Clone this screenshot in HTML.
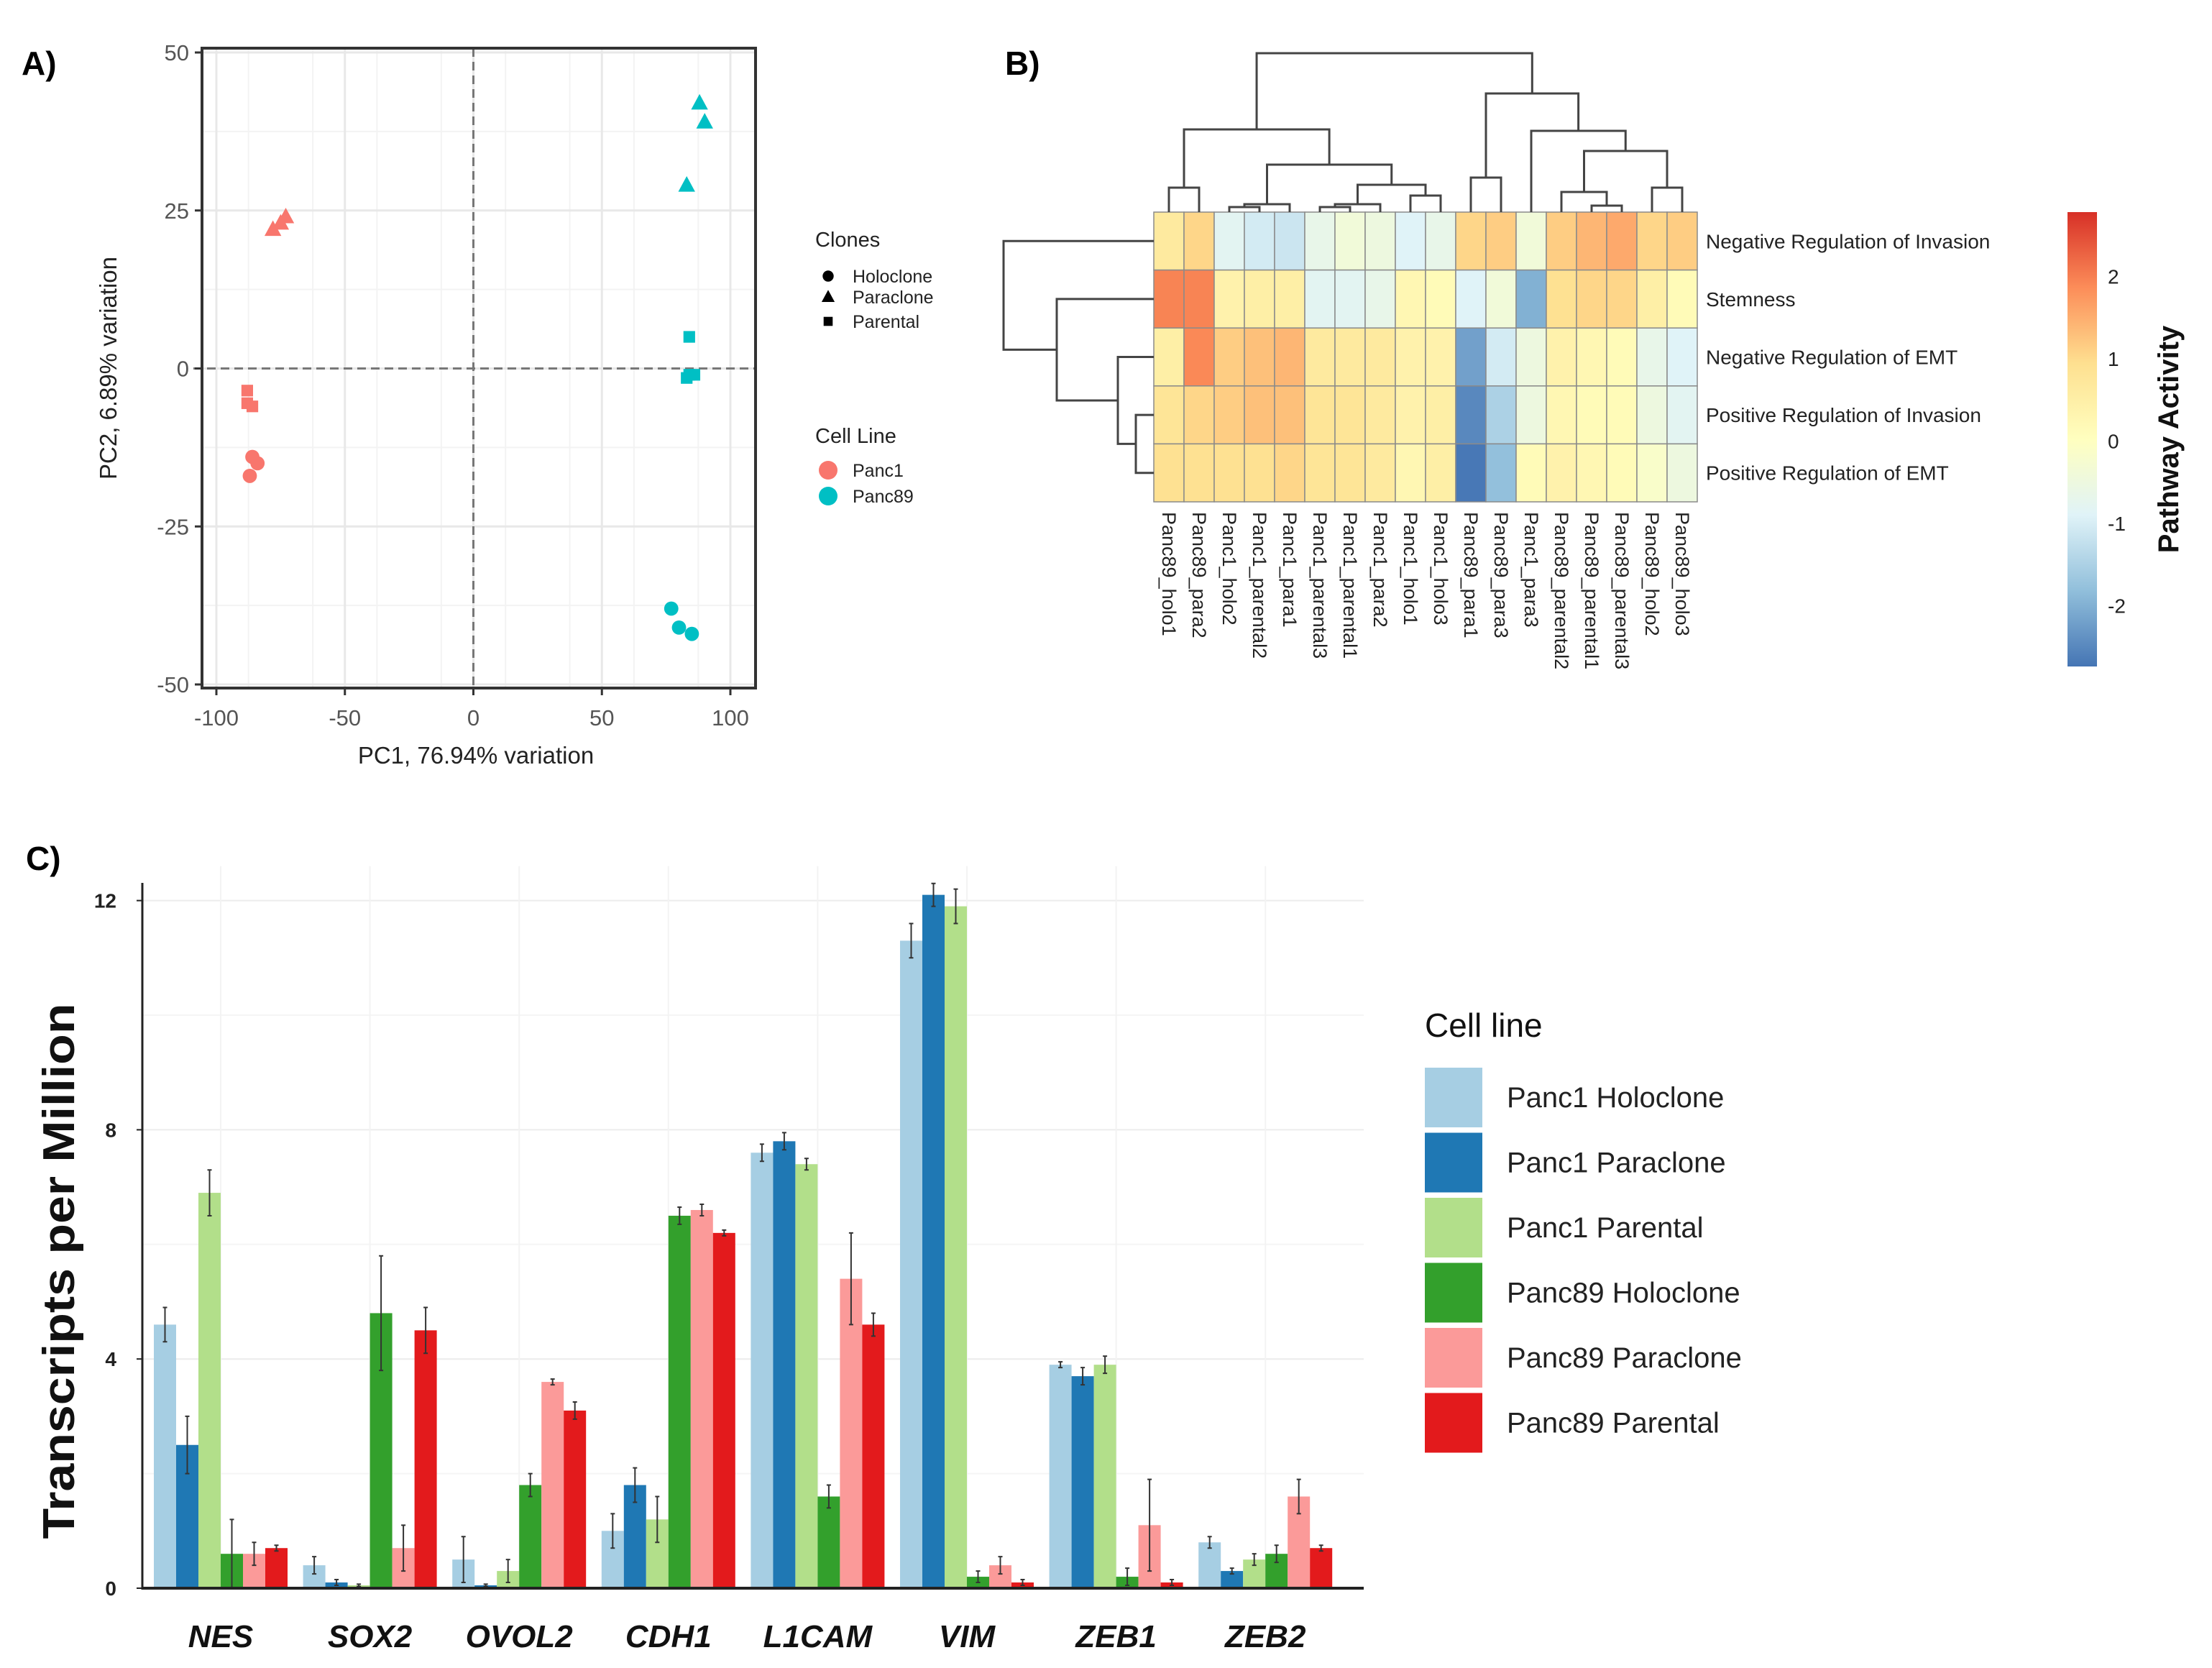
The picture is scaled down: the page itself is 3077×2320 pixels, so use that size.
<!DOCTYPE html>
<html><head><meta charset="utf-8"><style>
html,body{margin:0;padding:0;background:#fff}
svg{display:block}
text{font-family:"Liberation Sans",sans-serif}
</style></head><body>
<svg id="fig" width="3077" height="2320" viewBox="0 0 3077 2320" xmlns="http://www.w3.org/2000/svg">
<rect width="3077" height="2320" fill="#fff"/>
<text x="30" y="104" font-size="46" font-weight="bold">A)</text>
<text x="1398" y="104" font-size="46" font-weight="bold">B)</text>
<text x="36" y="1210" font-size="46" font-weight="bold">C)</text>
<g id="pca"></g>
<g id="heat"></g>
<g id="bars"></g>
</svg>
<script>
// ---------- PCA data ----------
const pcaX = [-75,-78,-73,-88,-88,-86,-86,-84,-87,88,90,83,84,84,86,83,77,80,85];
const pcaY = [23,22,24,-3.5,-5.5,-6,-14,-15,-17,42,39,29,5,-1,-1,-1.5,-38,-41,-42];
const pcaClone = ['para','para','para','par','par','par','holo','holo','holo','para','para','para','par','par','par','par','holo','holo','holo'];
const pcaLine = ['Panc1','Panc1','Panc1','Panc1','Panc1','Panc1','Panc1','Panc1','Panc1','Panc89','Panc89','Panc89','Panc89','Panc89','Panc89','Panc89','Panc89','Panc89','Panc89'];
const pcaXTicks = [-100,-50,0,50,100];
const pcaYTicks = [50,25,0,-25,-50];

// ---------- Heatmap data ----------
const hmCols = ['Panc89_holo1','Panc89_para2','Panc1_holo2','Panc1_parental2','Panc1_para1','Panc1_parental3','Panc1_parental1','Panc1_para2','Panc1_holo1','Panc1_holo3','Panc89_para1','Panc89_para3','Panc1_para3','Panc89_parental2','Panc89_parental1','Panc89_parental3','Panc89_holo2','Panc89_holo3'];
const hmRows = ['Negative Regulation of Invasion','Stemness','Negative Regulation of EMT','Positive Regulation of Invasion','Positive Regulation of EMT'];
const hmRow0 = [0.65,1.05,-0.8,-1.05,-1.15,-0.65,-0.4,-0.5,-0.9,-0.65,1.05,1.15,-0.4,1.15,1.4,1.55,1.05,1.15];
const hmRow1 = [1.95,1.95,0.4,0.5,0.5,-0.8,-0.8,-0.65,0.25,0.15,-0.9,-0.4,-2.0,0.9,1.05,1.05,0.5,0.15];
const hmRow2 = [0.5,1.9,1.15,1.3,1.4,0.65,0.65,0.65,0.4,0.4,-2.2,-1.05,-0.5,0.4,0.25,0.15,-0.65,-0.9];
const hmRow3 = [0.8,1.05,1.15,1.3,1.3,0.8,0.8,0.65,0.4,0.5,-2.5,-1.5,-0.5,0.25,0.15,0.15,-0.5,-0.8];
const hmRow4 = [0.9,0.9,0.9,0.9,1.05,0.8,0.8,0.65,0.25,0.5,-2.7,-1.8,0.15,0.4,0.25,0.15,-0.15,-0.5];
const hmTicks = [2,1,0,-1,-2];

// ---------- Bar data ----------
const genes = ['NES','SOX2','OVOL2','CDH1','L1CAM','VIM','ZEB1','ZEB2'];
const seriesNames = ['Panc1 Holoclone','Panc1 Paraclone','Panc1 Parental','Panc89 Holoclone','Panc89 Paraclone','Panc89 Parental'];
const p1Holo = [4.6,0.4,0.5,1.0,7.6,11.3,3.9,0.8];
const p1Para = [2.5,0.1,0.05,1.8,7.8,12.1,3.7,0.3];
const p1Parental = [6.9,0.05,0.3,1.2,7.4,11.9,3.9,0.5];
const p89Holo = [0.6,4.8,1.8,6.5,1.6,0.2,0.2,0.6];
const p89Para = [0.6,0.7,3.6,6.6,5.4,0.4,1.1,1.6];
const p89Parental = [0.7,4.5,3.1,6.2,4.6,0.1,0.1,0.7];
const e1Holo = [0.3,0.15,0.4,0.3,0.15,0.3,0.05,0.1];
const e1Para = [0.5,0.05,0.02,0.3,0.15,0.2,0.15,0.05];
const e1Parental = [0.4,0.02,0.2,0.4,0.1,0.3,0.15,0.1];
const e89Holo = [0.6,1.0,0.2,0.15,0.2,0.1,0.15,0.15];
const e89Para = [0.2,0.4,0.05,0.1,0.8,0.15,0.8,0.3];
const e89Parental = [0.05,0.4,0.15,0.05,0.2,0.05,0.05,0.05];
const barTicks = [0,4,8,12];

const NS='http://www.w3.org/2000/svg';
function mk(parent,tag,attrs,txt){const e=document.createElementNS(NS,tag);for(const k in attrs)e.setAttribute(k,attrs[k]);if(txt!==undefined)e.textContent=txt;parent.appendChild(e);return e;}

// ================= PCA =================
(function(){
const g=document.getElementById('pca');
const L=281,R=1051,T=67,B=957;
const sx=v=>658.5+v*3.575, sy=v=>512.5-v*8.79;
const red='#F8766D', teal='#00BFC4';
for(let v=-87.5;v<=100;v+=25){const x=sx(v);if(x>L&&x<R)mk(g,'line',{x1:x,x2:x,y1:T,y2:B,stroke:'#f3f3f3','stroke-width':2});}
for(let v=-37.5;v<=50;v+=25){mk(g,'line',{x1:L,x2:R,y1:sy(v),y2:sy(v),stroke:'#f3f3f3','stroke-width':2});}
pcaXTicks.forEach(v=>{mk(g,'line',{x1:sx(v),x2:sx(v),y1:T,y2:B,stroke:'#e8e8e8','stroke-width':3});});
pcaYTicks.forEach(v=>{mk(g,'line',{x1:L,x2:R,y1:sy(v),y2:sy(v),stroke:'#e8e8e8','stroke-width':3});});
mk(g,'line',{x1:sx(0),x2:sx(0),y1:T,y2:B,stroke:'#777','stroke-width':3,'stroke-dasharray':'12 7'});
mk(g,'line',{x1:L-12,x2:R,y1:sy(0),y2:sy(0),stroke:'#777','stroke-width':3,'stroke-dasharray':'12 7'});
const box=mk(g,'rect',{x:L,y:T,width:R-L,height:B-T,fill:'none',stroke:'#333','stroke-width':4});


pcaXTicks.forEach(v=>{mk(g,'line',{x1:sx(v),x2:sx(v),y1:B,y2:B+10,stroke:'#333','stroke-width':3});
 const t=mk(g,'text',{x:sx(v),y:B+52,'font-size':31,fill:'#555','text-anchor':'middle'},String(v));
 
 });
pcaYTicks.forEach(v=>{mk(g,'line',{x1:L-10,x2:L,y1:sy(v),y2:sy(v),stroke:'#333','stroke-width':3});
 const t=mk(g,'text',{x:L-18,y:sy(v)+11,'font-size':31,fill:'#555','text-anchor':'end'},String(v));
 
 });
const xt=mk(g,'text',{x:662,y:1062,'font-size':33,fill:'#222','text-anchor':'middle'},'PC1, 76.94% variation');


const yt=mk(g,'text',{x:0,y:0,'font-size':33,fill:'#222','text-anchor':'middle',transform:'translate(162,512) rotate(-90)'},'PC2, 6.89% variation');


function marker(parent,shape,x,y,c,s){
 if(shape==='holo') return mk(parent,'circle',{cx:x,cy:y,r:s*0.55,fill:c});
 if(shape==='para') return mk(parent,'polygon',{points:`${x},${y-s*0.7} ${x-s*0.65},${y+s*0.5} ${x+s*0.65},${y+s*0.5}`,fill:c});
 return mk(parent,'rect',{x:x-s*0.45,y:y-s*0.45,width:s*0.9,height:s*0.9,fill:c});
}
pcaX.forEach((v,i)=>{const m=marker(g,pcaClone[i],sx(v),sy(pcaY[i]),pcaLine[i]==='Panc1'?red:teal,18);
 
 });
const lg=mk(g,'g',{});


mk(lg,'text',{x:1134,y:343,'font-size':29,fill:'#222'},'Clones');
[['holo','Holoclone',384],['para','Paraclone',413],['par','Parental',447]].forEach(a=>{marker(lg,a[0],1152,a[2],'#000',14);
 const t=mk(lg,'text',{x:1186,y:a[2]+9,'font-size':25,fill:'#222'},a[1]);
 
 });
mk(lg,'text',{x:1134,y:616,'font-size':29,fill:'#222'},'Cell Line');
[[red,'Panc1',654],[teal,'Panc89',690]].forEach(a=>{mk(lg,'circle',{cx:1152,cy:a[2],r:13,fill:a[0]});
 const t=mk(lg,'text',{x:1186,y:a[2]+9,'font-size':25,fill:'#222'},a[1]);
 
 });
})();

// ================= HEATMAP =================
(function(){
const g=document.getElementById('heat');
const L=1605,T=295,CW=42,RH=80.6;
const rows=[hmRow0,hmRow1,hmRow2,hmRow3,hmRow4];
const vmin=-2.74,vmax=2.78;
const pal=['#4575B4','#91BFDB','#E0F3F8','#FFFFBF','#FEE090','#FC8D59','#D73027'];
function hex(h){return [1,3,5].map(i=>parseInt(h.substr(i,2),16));}
function col(v){let t=(v-vmin)/(vmax-vmin);t=Math.max(0,Math.min(1,t));const p=t*(pal.length-1);const i=Math.min(pal.length-2,Math.floor(p));const f=p-i;const a=hex(pal[i]),b=hex(pal[i+1]);return 'rgb('+a.map((x,k)=>Math.round(x+(b[k]-x)*f)).join(',')+')';}
rows.forEach((r,ri)=>r.forEach((v,ci)=>{const c=mk(g,'rect',{x:L+ci*CW,y:T+ri*RH,width:CW,height:RH,fill:col(v),stroke:'#8a8a8a','stroke-width':1.5});
 
 }));
hmRows.forEach((n,ri)=>{const t=mk(g,'text',{x:L+18*CW+12,y:T+(ri+0.5)*RH+10,'font-size':28,fill:'#222'},n);
 
 });
hmCols.forEach((n,ci)=>{const x=L+(ci+0.5)*CW;const t=mk(g,'text',{x:0,y:0,'font-size':27,fill:'#222',transform:`translate(${x-9},${T+5*RH+14}) rotate(90)`},n);
 
 });
const cx=i=>L+(i+0.5)*CW;
const st={stroke:'#444','stroke-width':3,fill:'none'};
const dg=mk(g,'g',{});


function link(x1,y1,x2,y2,h){mk(dg,'path',Object.assign({d:`M${x1},${y1}V${h}H${x2}V${y2}`},st));return [(x1+x2)/2,h];}
const a01=link(cx(0),T,cx(1),T,261);
const a23=link(cx(2),T,cx(3),T,288);
const a234=link(a23[0],288,cx(4),T,284);
const a56=link(cx(5),T,cx(6),T,288);
const a567=link(a56[0],288,cx(7),T,284);
const a89=link(cx(8),T,cx(9),T,272);
const a5to9=link(a567[0],284,a89[0],272,257);
const a2to9=link(a234[0],284,a5to9[0],257,229);
const aL=link(a01[0],261,a2to9[0],229,180);
const a1011=link(cx(10),T,cx(11),T,247);
const a1415=link(cx(14),T,cx(15),T,286);
const a1315=link(cx(13),T,a1415[0],286,267);
const a1617=link(cx(16),T,cx(17),T,261);
const a1317=link(a1315[0],267,a1617[0],261,210);
const a1217=link(cx(12),T,a1317[0],210,182);
const aR=link(a1011[0],247,a1217[0],182,130);
link(aL[0],180,aR[0],130,74);
const ry=i=>T+(i+0.5)*RH;
const rg=mk(g,'g',{});


function rlink(y1,x1,y2,x2,h){mk(rg,'path',Object.assign({d:`M${x1},${y1}H${h}V${y2}H${x2}`},st));return [h,(y1+y2)/2];}
const b34=rlink(ry(3),L,ry(4),L,1580);
const b234=rlink(ry(2),L,b34[1],1580,1555);
const b1=rlink(ry(1),L,b234[1],1555,1470);
rlink(ry(0),L,b1[1],1470,1396);
const CB={x:2876,w:41,top:295,bot:927};
const grad=mk(g,'defs',{});
const lgd=mk(grad,'linearGradient',{id:'cbg',x1:0,y1:1,x2:0,y2:0});
pal.forEach((c,i)=>mk(lgd,'stop',{offset:(i/(pal.length-1)),'stop-color':c}));
const cb=mk(g,'rect',{x:CB.x,y:CB.top,width:CB.w,height:CB.bot-CB.top,fill:'url(#cbg)'});


const vy=v=>CB.bot-(v-vmin)/(vmax-vmin)*(CB.bot-CB.top);
hmTicks.forEach(v=>{const t=mk(g,'text',{x:CB.x+56,y:vy(v)+10,'font-size':28,fill:'#222'},String(v));
 
 });
const ct=mk(g,'text',{x:0,y:0,'font-size':40,'font-weight':'bold',fill:'#111','text-anchor':'middle',transform:'translate(3030,611) rotate(-90)'},'Pathway Activity');


})();

// ================= BARS =================
(function(){
const g=document.getElementById('bars');
const L=198,R=1897,Y0=2209,PU=79.7,C0=307,STEP=207.6,BW=31;
const sy=v=>Y0-v*PU;
const series=[p1Holo,p1Para,p1Parental,p89Holo,p89Para,p89Parental];
const errs=[e1Holo,e1Para,e1Parental,e89Holo,e89Para,e89Parental];
const cols=['#A6CEE3','#1F78B4','#B2DF8A','#33A02C','#FB9A99','#E31A1C'];
for(let v=0;v<=12;v+=2){mk(g,'line',{x1:L,x2:R,y1:sy(v),y2:sy(v),stroke:v%4===0?'#ececec':'#f5f5f5','stroke-width':2});}
genes.forEach((n,i)=>{const x=C0+i*STEP;mk(g,'line',{x1:x,x2:x,y1:sy(12.6),y2:Y0,stroke:'#f3f3f3','stroke-width':2});});
series.forEach((s,si)=>s.forEach((v,gi)=>{
 const x=C0+gi*STEP+(si-3)*BW;
 const b=mk(g,'rect',{x:x,y:sy(v),width:BW,height:v*PU,fill:cols[si]});
 
 
 const e=errs[si][gi];const xm=x+BW/2;
 const el=mk(g,'path',{d:`M${xm},${sy(v+e)}V${sy(Math.max(0,v-e))}M${xm-3},${sy(v+e)}H${xm+3}M${xm-3},${sy(Math.max(0,v-e))}H${xm+3}`,stroke:'#333','stroke-width':2,fill:'none'});
 
 
}));
mk(g,'line',{x1:L,x2:L,y1:1228,y2:Y0+2,stroke:'#222','stroke-width':3});
mk(g,'line',{x1:L,x2:R,y1:Y0,y2:Y0,stroke:'#222','stroke-width':4});
barTicks.forEach(v=>{mk(g,'line',{x1:L-8,x2:L,y1:sy(v),y2:sy(v),stroke:'#222','stroke-width':2});
 const t=mk(g,'text',{x:162,y:sy(v)+10,'font-size':28,'font-weight':'bold',fill:'#222','text-anchor':'end'},String(v));
 
 });
genes.forEach((n,i)=>{const t=mk(g,'text',{x:C0+i*STEP,y:2291,'font-size':44,'font-weight':'bold','font-style':'italic',fill:'#111','text-anchor':'middle'},n);
 
 });
const yt=mk(g,'text',{x:0,y:0,'font-size':62,'font-weight':'bold',fill:'#111','text-anchor':'middle',textLength:745,lengthAdjust:'spacingAndGlyphs',transform:'translate(103,1768) rotate(-90)'},'Transcripts per Million');


const lt=mk(g,'text',{x:1982,y:1442,'font-size':46,fill:'#111'},'Cell line');


seriesNames.forEach((n,i)=>{const y=1485+i*90.5;
 const k=mk(g,'rect',{x:1982,y:y,width:80,height:83,fill:cols[i]});
 
 
 const t=mk(g,'text',{x:2096,y:y+55,'font-size':40,fill:'#222'},n);
 
 });
})();
</script>
</body></html>
